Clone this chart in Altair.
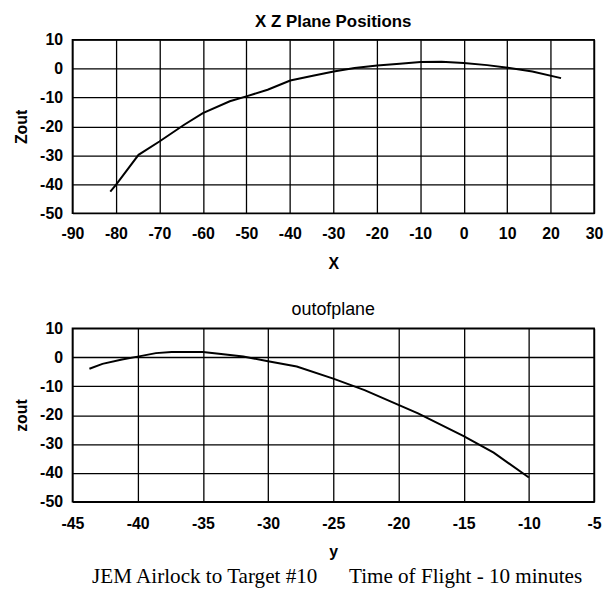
import altair as alt
import pandas as pd

# Top panel: X Z plane positions
xz_x = [-81.3, -80, -74.8, -70, -64.3, -60, -53.8, -50, -45.1, -39.9, -34.7,
        -29.9, -25.1, -19.9, -14.7, -9.9, -5.1, 0, 5.4, 9.7, 15.8, 22.4]
xz_z = [-42.5, -40.2, -29.8, -25.2, -19.4, -15.4, -11.3, -9.6, -7.3, -4.1, -2.5,
        -1.0, 0.2, 1.1, 1.7, 2.3, 2.4, 1.9, 1.2, 0.4, -1.0, -3.3]

# Bottom panel: out of plane
oop_y = [-43.7, -42.7, -41.2, -40, -38.6, -37.4, -35, -33.6, -31.9, -30, -27.8,
         -25, -22.6, -20, -18.5, -15, -12.7, -10]
oop_z = [-4.0, -2.3, -0.8, 0.2, 1.4, 1.8, 1.8, 1.1, 0.2, -1.4, -3.2,
         -7.4, -11.4, -16.5, -19.4, -27.3, -33.0, -41.6]

x_ticks_top = [-90, -80, -70, -60, -50, -40, -30, -20, -10, 0, 10, 20, 30]
x_ticks_bot = [-45, -40, -35, -30, -25, -20, -15, -10, -5]
z_ticks = [-50, -40, -30, -20, -10, 0, 10]

df_top = pd.DataFrame({"X": xz_x, "Zout": xz_z, "order": range(len(xz_x))})
df_bot = pd.DataFrame({"y": oop_y, "zout": oop_z, "order": range(len(oop_y))})

FONT = "Liberation Sans"
W, H = 526, 175
LBL = "toString(datum.value)"

def panel(df, xf, yf, xticks, xdom, ytitle, title, title_weight, title_size,
          xlabpad, xtitlepad):
    return alt.Chart(df).mark_line(color="black", strokeWidth=2).encode(
        x=alt.X(f"{xf}:Q", scale=alt.Scale(domain=xdom, nice=False, zero=False),
                axis=alt.Axis(values=xticks, title=xf, titlePadding=xtitlepad,
                              labelPadding=xlabpad, labelExpr=LBL)),
        y=alt.Y(f"{yf}:Q", scale=alt.Scale(domain=[-50, 10], nice=False, zero=False),
                axis=alt.Axis(values=z_ticks, title=ytitle, titlePadding=10,
                              labelPadding=10, labelExpr=LBL)),
        order="order:Q",
    ).properties(
        width=W, height=H,
        title=alt.TitleParams(title, font=FONT, fontSize=title_size,
                              fontWeight=title_weight, color="black",
                              offset=1, anchor="middle"),
    )

top = panel(df_top, "X", "Zout", x_ticks_top, [-90, 30], "Zout",
            "X Z Plane Positions", "bold", 17, 12, 15)
bot = panel(df_bot, "y", "zout", x_ticks_bot, [-45, -5], "zout",
            "outofplane", "normal", 18, 14, 12)

caption = ("JEM Airlock to Target #10" + "\u00a0" * 6 + "Time of Flight - 10 minutes")

chart = alt.vconcat(top, bot, spacing=28).properties(
    title=alt.TitleParams(caption, orient="bottom", font="Liberation Serif",
                          fontSize=21.3, fontWeight="normal", color="black",
                          anchor="middle", offset=6, dx=29),
    padding={"left": 5, "top": 1.5, "right": 0, "bottom": 0},
    background="white",
).configure_axis(
    labelFont=FONT, labelFontSize=16, labelFontWeight="bold", labelColor="black",
    titleFont=FONT, titleFontSize=16, titleFontWeight="bold", titleColor="black",
    grid=True, gridColor="black", gridWidth=1.3, gridOpacity=1,
    domain=False, ticks=False, labelFlush=False, labelOverlap=False,
).configure_view(
    stroke="black", strokeWidth=1.6,
)

chart.save("out.html", embed_options={"renderer": "svg", "actions": False})
